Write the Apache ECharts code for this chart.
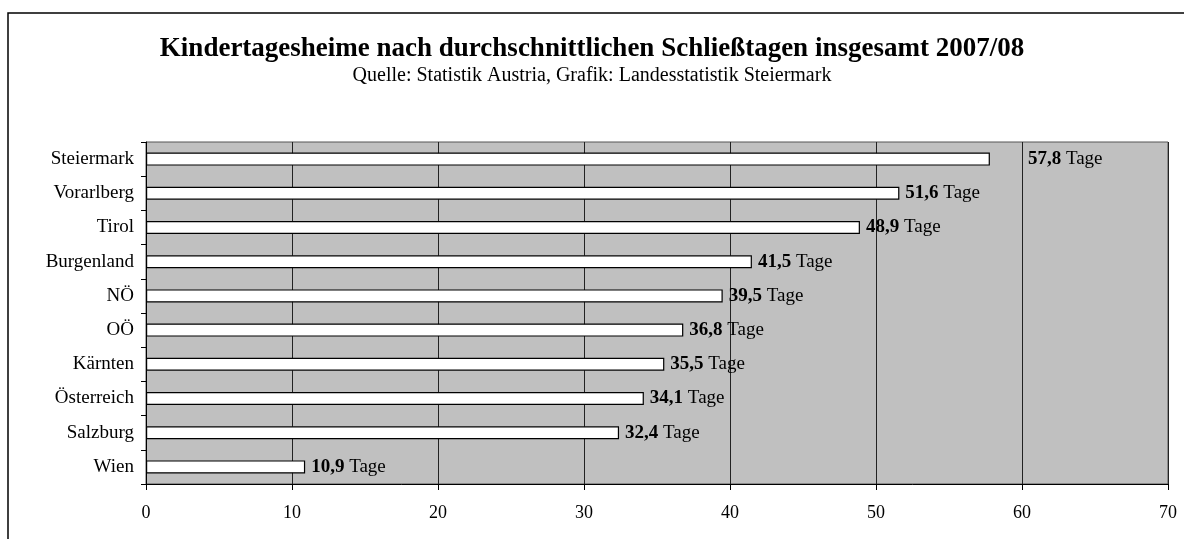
<!DOCTYPE html>
<html>
<head>
<meta charset="utf-8">
<script src="https://cdn.jsdelivr.net/npm/echarts@6/dist/echarts.min.js"></script>
<style>
  html, body { margin: 0; padding: 0; background: #fff; }
  #chart { width: 1184px; height: 539px; }
</style>
</head>
<body>
<div id="chart"></div>
<script>
// Bundesländer, von oben nach unten
var regions = ['Steiermark', 'Vorarlberg', 'Tirol', 'Burgenland', 'NÖ', 'OÖ', 'Kärnten', 'Österreich', 'Salzburg', 'Wien'];
// durchschnittliche Schließtage
var closingDays = [57.8, 51.6, 48.9, 41.5, 39.5, 36.8, 35.5, 34.1, 32.4, 10.9];
var xTicks = [0, 10, 20, 30, 40, 50, 60, 70];

var serif = '"Liberation Serif", "Times New Roman", serif';

var chart = echarts.init(document.getElementById('chart'));

var barData = closingDays.map(function (v, i) {
  var d = { value: v };
  // Label der Steiermark steht im Original rechts neben der 60er-Linie
  if (i === 0) d.label = { offset: [32, 0] };
  return d;
});

var option = {
  backgroundColor: '#fff',
  animation: false,
  title: {
    text: 'Kindertagesheime nach durchschnittlichen Schließtagen insgesamt 2007/08',
    subtext: 'Quelle: Statistik Austria, Grafik: Landesstatistik Steiermark',
    left: 'center',
    top: 31,
    itemGap: 3,
    textStyle: { fontFamily: serif, fontSize: 27, fontWeight: 'bold', color: '#000' },
    subtextStyle: { fontFamily: serif, fontSize: 20, color: '#000' }
  },
  graphic: [{
    type: 'rect',
    shape: { x: 8, y: 13, width: 1300, height: 700 },
    style: { fill: 'none', stroke: '#000', lineWidth: 1.5 },
    silent: true
  }],
  grid: {
    left: 146, right: 16, top: 142, bottom: 55,
    show: true,
    backgroundColor: '#c0c0c0',
    borderColor: '#555',
    borderWidth: 1
  },
  xAxis: {
    type: 'value',
    min: xTicks[0],
    max: xTicks[xTicks.length - 1],
    interval: 10,
    axisLine: { show: true, lineStyle: { color: '#000', width: 1 } },
    axisTick: { show: true, length: 6, lineStyle: { color: '#000' } },
    axisLabel: { color: '#000', fontFamily: serif, fontSize: 18, margin: 20 },
    splitLine: { show: true, lineStyle: { color: '#222', width: 1 } }
  },
  yAxis: {
    type: 'category',
    data: regions,
    inverse: true,
    axisLine: { show: true, lineStyle: { color: '#000', width: 1 } },
    axisTick: { show: true, length: 5, interval: 0, lineStyle: { color: '#000' } },
    axisLabel: { color: '#000', fontFamily: serif, fontSize: 19, margin: 12 },
    splitLine: { show: false }
  },
  series: [{
    type: 'bar',
    data: barData,
    barWidth: 13,
    itemStyle: { color: '#fff', borderColor: '#000', borderWidth: 1.2 },
    label: {
      show: true,
      position: 'right',
      distance: 6,
      fontFamily: serif,
      fontSize: 19,
      color: '#000',
      formatter: function (p) {
        return '{b|' + p.value.toFixed(1).replace('.', ',') + '} Tage';
      },
      rich: {
        b: { fontFamily: serif, fontSize: 19, fontWeight: 'bold', color: '#000' }
      }
    }
  }]
};

chart.setOption(option);
</script>
</body>
</html>
